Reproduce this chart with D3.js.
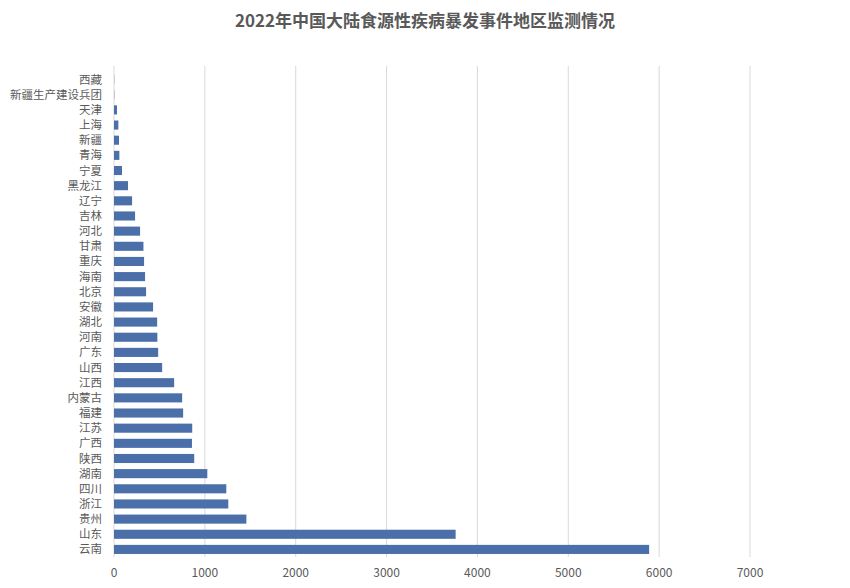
<!DOCTYPE html><html><head><meta charset="utf-8"><script src="https://cdn.jsdelivr.net/npm/d3@7"></script>
<style>body{margin:0;background:#fff}text{font-family:"Noto Sans CJK SC","Noto Sans",sans-serif}</style></head><body><svg width="850" height="588"></svg><script>
const categories=["西藏","新疆生产建设兵团","天津","上海","新疆","青海","宁夏","黑龙江","辽宁","吉林","河北","甘肃","重庆","海南","北京","安徽","湖北","河南","广东","山西","江西","内蒙古","福建","江苏","广西","陕西","湖南","四川","浙江","贵州","山东","云南"];
const values=[2,3,33,48,55,59,88,154,199,232,287,324,331,342,353,430,475,477,486,530,662,750,761,861,858,883,1027,1236,1258,1457,3760,5890];
const ticks=[0,1000,2000,3000,4000,5000,6000,7000];
const svg=d3.select("svg");
const x=d3.scaleLinear().domain([0,7000]).range([114,750]);
const y=d3.scaleBand().domain(categories).range([72,557]).paddingInner(0.4).paddingOuter(0.2);
svg.append("text").attr("x",425).attr("y",27).attr("text-anchor","middle").attr("font-size",17).attr("font-weight","bold").attr("fill","#595959").text("2022年中国大陆食源性疾病暴发事件地区监测情况");
svg.append("g").selectAll("line").data(ticks.slice(1)).join("line").attr("x1",d=>x(d)).attr("x2",d=>x(d)).attr("y1",66).attr("y2",557).attr("stroke","#d9d9d9");
svg.append("line").attr("x1",114).attr("x2",114).attr("y1",66).attr("y2",557).attr("stroke","#d9d9d9");
svg.append("g").selectAll("rect").data(values).join("rect").attr("x",x(0)).attr("y",(d,i)=>y(categories[i])).attr("height",y.bandwidth()).attr("width",d=>x(d)-x(0)).attr("fill","#4a6fa9");
svg.append("g").selectAll("text").data(categories).join("text").attr("x",102).attr("y",d=>y(d)+y.bandwidth()/2).attr("dy","0.35em").attr("text-anchor","end").attr("font-size",11.5).attr("fill","#595959").text(d=>d);
svg.append("g").selectAll("text").data(ticks).join("text").attr("x",d=>x(d)).attr("y",577).attr("text-anchor","middle").attr("font-size",12).attr("fill","#595959").text(d=>d);
</script></body></html>
